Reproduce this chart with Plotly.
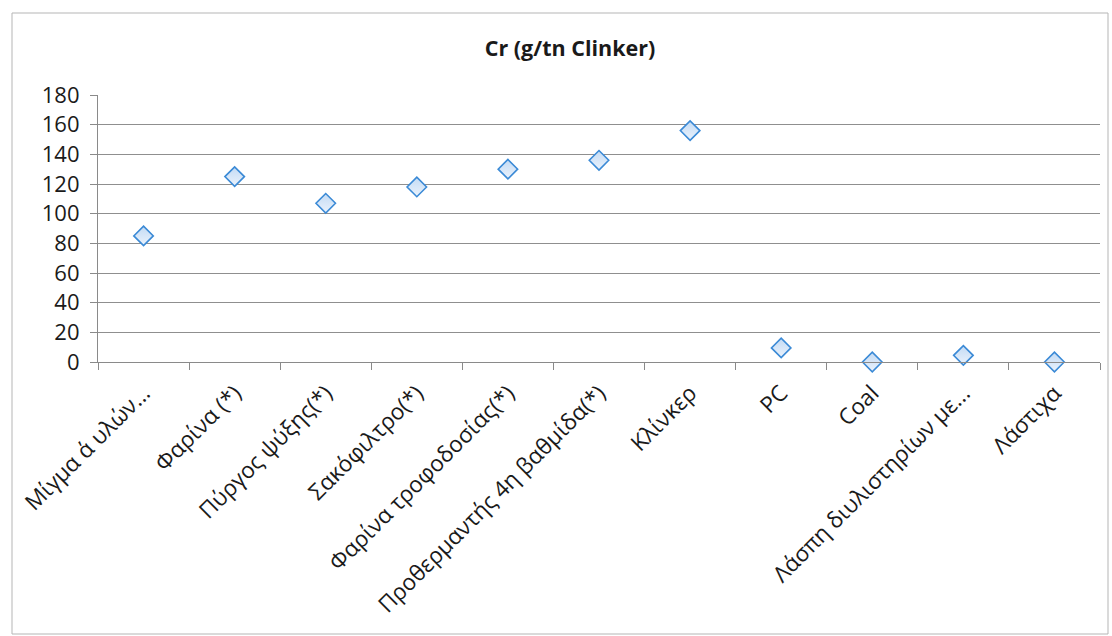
import plotly.graph_objects as go

categories = [
    "Μίγμα α΄ υλών...",
    "Φαρίνα (*)",
    "Πύργος ψύξης(*)",
    "Σακόφιλτρο(*)",
    "Φαρίνα τροφοδοσίας(*)",
    "Προθερμαντής 4η βαθμίδα(*)",
    "Κλίνκερ",
    "PC",
    "Coal",
    "Λάσπη διυλιστηρίων με...",
    "Λάστιχα",
]
cr_values = [85, 125, 107, 118, 130, 136, 156, 9.5, 0, 4.5, 0]
y_ticks = [0, 20, 40, 60, 80, 100, 120, 140, 160, 180]

FONT = "Open Sans"

fig = go.Figure()
fig.add_trace(go.Scatter(
    x=categories,
    y=cr_values,
    mode="markers",
    cliponaxis=False,
    marker=dict(
        symbol="diamond",
        size=15,
        color="#c4dbf4",
        gradient=dict(type="vertical", color="#eaf2fc"),
        line=dict(color="#3b8ad6", width=1.6),
    ),
    showlegend=False,
))

fig.update_layout(
    width=1112,
    height=636,
    margin=dict(l=98, r=12, t=95, b=274),
    paper_bgcolor="white",
    plot_bgcolor="white",
    title=dict(
        text="<b>Cr (g/tn Clinker)</b>",
        x=570 / 1112,
        xanchor="center",
        y=1 - 48 / 636,
        yanchor="middle",
        font=dict(family=FONT, size=21.5, color="#1a1a1a"),
    ),
    font=dict(family=FONT, color="#1a1a1a"),
    xaxis=dict(
        type="category",
        range=[-0.5, 10.5],
        tickangle=-45,
        tickfont=dict(family=FONT, size=22.5, color="#1a1a1a"),
        ticklabelstandoff=8,
        showgrid=False,
        showline=True,
        linecolor="#8a8a8a",
        linewidth=1.2,
        ticks="outside",
        tickson="boundaries",
        ticklen=7,
        tickcolor="#8a8a8a",
        zeroline=False,
    ),
    yaxis=dict(
        range=[0, 180],
        tickvals=y_ticks,
        tickfont=dict(family=FONT, size=22, color="#1a1a1a"),
        ticklabelstandoff=6,
        showgrid=True,
        gridcolor="#8f8f8f",
        gridwidth=1,
        showline=True,
        linecolor="#8a8a8a",
        linewidth=1.2,
        ticks="outside",
        ticklen=7,
        tickcolor="#8a8a8a",
        zeroline=False,
    ),
    shapes=[
        dict(type="rect", xref="paper", yref="paper",
             x0=-86 / 1002, x1=1 + 8 / 1002, y0=-272 / 267, y1=1 + 82 / 267,
             line=dict(color="#b5b5b5", width=1), fillcolor="rgba(0,0,0,0)",
             layer="below"),
    ],
)

fig.write_html("out.html")
